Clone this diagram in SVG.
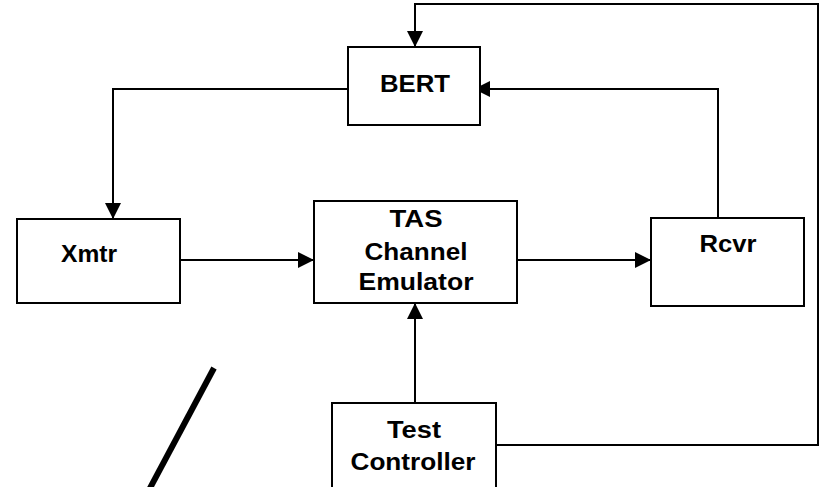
<svg xmlns="http://www.w3.org/2000/svg" width="825" height="487" viewBox="0 0 825 487">
  <defs>
    <marker id="arrow" markerUnits="userSpaceOnUse" markerWidth="16" markerHeight="16" refX="16" refY="8" orient="auto">
      <path d="M0,0 L16,8 L0,16 Z" fill="#000"/>
    </marker>
    <style>
      .box { fill: #fff; stroke: #000; stroke-width: 2; }
      .lbl { font-family: "Liberation Sans", Arial, sans-serif; font-weight: bold; font-size: 23px; fill: #000; text-anchor: middle; }
      .wire { fill: none; stroke: #000; stroke-width: 2; }
    </style>
  </defs>
  <rect width="825" height="487" fill="#fff"/>

  <!-- connectors -->
  <g id="connectors">
    <path class="wire" d="M348,89 H113 V219" marker-end="url(#arrow)"/>
    <path class="wire" d="M718,218 V89 H474" marker-end="url(#arrow)"/>
    <path class="wire" d="M496,445 H818 V4 H415 V47" marker-end="url(#arrow)"/>
    <path class="wire" d="M180,260 H314" marker-end="url(#arrow)"/>
    <path class="wire" d="M517,260 H651" marker-end="url(#arrow)"/>
    <path class="wire" d="M415,403 V303" marker-end="url(#arrow)"/>
  </g>

  <g id="bert">
    <rect class="box" x="348" y="47" width="132" height="78"/>
    <text class="lbl" x="415" y="92" font-size="24" textLength="70" lengthAdjust="spacingAndGlyphs">BERT</text>
  </g>

  <g id="xmtr">
    <rect class="box" x="17" y="219" width="163" height="84"/>
    <text class="lbl" x="89" y="262" textLength="56" lengthAdjust="spacingAndGlyphs">Xmtr</text>
  </g>

  <g id="tas">
    <rect class="box" x="314" y="201" width="203" height="102"/>
    <text class="lbl" x="416" y="227" textLength="53" lengthAdjust="spacingAndGlyphs">TAS</text>
    <text class="lbl" x="416" y="260" textLength="103" lengthAdjust="spacingAndGlyphs">Channel</text>
    <text class="lbl" x="416" y="290" textLength="115" lengthAdjust="spacingAndGlyphs">Emulator</text>
  </g>

  <g id="rcvr">
    <rect class="box" x="651" y="218" width="153" height="88"/>
    <text class="lbl" x="728" y="252" textLength="57" lengthAdjust="spacingAndGlyphs">Rcvr</text>
  </g>

  <g id="controller">
    <rect class="box" x="332" y="403" width="164" height="100"/>
    <text class="lbl" x="414" y="438" textLength="54" lengthAdjust="spacingAndGlyphs">Test</text>
    <text class="lbl" x="413" y="470" textLength="125" lengthAdjust="spacingAndGlyphs">Controller</text>
  </g>

  <!-- stray diagonal stroke -->
  <line x1="214" y1="368" x2="149" y2="490" stroke="#000" stroke-width="6"/>
</svg>
